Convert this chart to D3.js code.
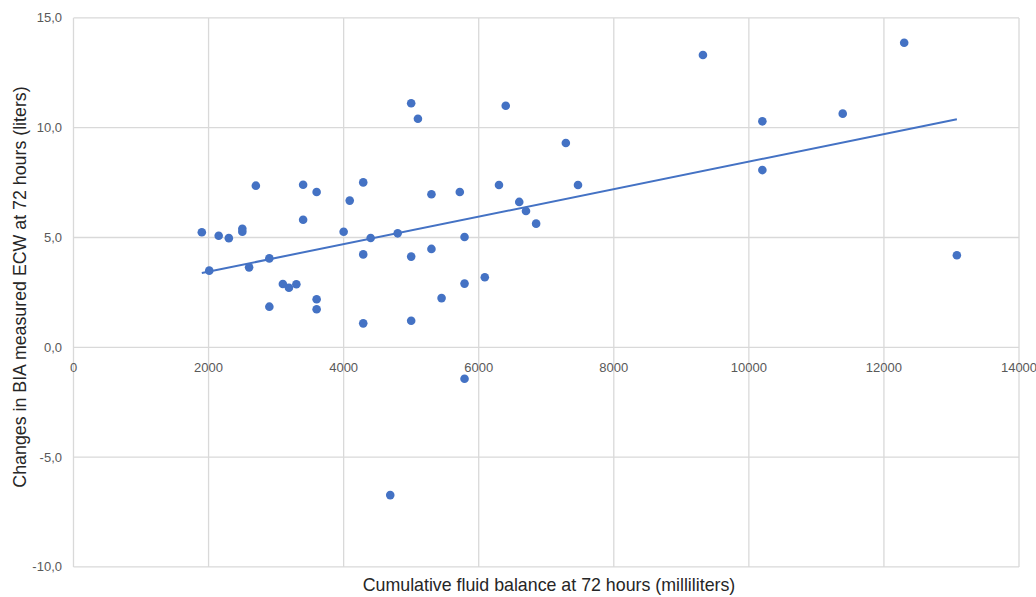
<!DOCTYPE html>
<html><head><meta charset="utf-8">
<script src="https://cdn.jsdelivr.net/npm/d3@7"></script>
<style>body{margin:0;background:#fff;}svg{display:block;}</style>
</head><body>
<svg id="c" width="1036" height="597"></svg>
<script>
const fluidBalance = [1900,2010,2150,2300,2500,2500,2600,2700,2900,2900,3100,3190,3300,3400,3400,3600,3600,3600,4000,4090,4290,4290,4290,4400,4690,4800,5000,5100,5000,5000,5300,5300,5450,5720,5790,5790,5790,6090,6300,6400,6600,6700,6850,7290,7470,9320,10200,10200,11390,12300,13080];
const ecwChange = [5.24,3.49,5.08,4.97,5.40,5.26,3.64,7.36,4.05,1.85,2.88,2.71,2.87,7.40,5.81,7.07,2.19,1.73,5.26,6.68,7.51,4.23,1.09,4.98,-6.73,5.19,11.11,10.41,4.13,1.21,6.97,4.48,2.24,7.07,5.02,2.90,-1.43,3.19,7.39,11.00,6.62,6.21,5.63,9.30,7.39,13.31,10.29,8.07,10.64,13.87,4.19];
const xTicks = [0,2000,4000,6000,8000,10000,12000,14000];
const yTicks = [-10,-5,0,5,10,15];
const xTitle = "Cumulative fluid balance at 72 hours (milliliters)";
const yTitle = "Changes in BIA measured ECW at 72 hours (liters)";

const svg = d3.select("#c");
const x = d3.scaleLinear().domain([0,14000]).range([73.5,1019]);
const y = d3.scaleLinear().domain([-10,15]).range([566.9,17.9]);
const grid = "#d9d9d9";

// gridlines
svg.append("g").selectAll("line").data(xTicks).join("line")
  .attr("x1",d=>x(d)).attr("x2",d=>x(d)).attr("y1",y(15)).attr("y2",y(-10))
  .attr("stroke",grid).attr("stroke-width",1.3);
svg.append("g").selectAll("line").data(yTicks).join("line")
  .attr("x1",x(0)).attr("x2",x(14000)).attr("y1",d=>y(d)).attr("y2",d=>y(d))
  .attr("stroke",grid).attr("stroke-width",1.3);

// tick labels
svg.append("g").selectAll("text").data(xTicks).join("text")
  .attr("x",d=>x(d)).attr("y",y(0)+25).attr("text-anchor","middle")
  .attr("font-family","Liberation Sans, Arial, sans-serif").attr("font-size",13)
  .attr("fill","#595959").text(d=>d);
svg.append("g").selectAll("text").data(yTicks).join("text")
  .attr("x",62).attr("y",d=>y(d)+4.5).attr("text-anchor","end")
  .attr("font-family","Liberation Sans, Arial, sans-serif").attr("font-size",13)
  .attr("fill","#595959").text(d=>d.toFixed(1).replace(".",","));

// trend line (least squares)
const n = fluidBalance.length;
const mx = d3.mean(fluidBalance), my = d3.mean(ecwChange);
let sxy=0,sxx=0;
for(let i=0;i<n;i++){sxy+=(fluidBalance[i]-mx)*(ecwChange[i]-my);sxx+=(fluidBalance[i]-mx)**2;}
const slope = sxy/sxx, icpt = my - slope*mx;
const ext = d3.extent(fluidBalance);
svg.append("line")
  .attr("x1",x(ext[0])).attr("y1",y(icpt+slope*ext[0]))
  .attr("x2",x(ext[1])).attr("y2",y(icpt+slope*ext[1]))
  .attr("stroke","#4472c4").attr("stroke-width",2);

// points
svg.append("g").selectAll("circle").data(fluidBalance.map((v,i)=>[v,ecwChange[i]])).join("circle")
  .attr("cx",d=>x(d[0])).attr("cy",d=>y(d[1])).attr("r",4.3).attr("fill","#4472c4");

// titles
svg.append("text").attr("x",549).attr("y",591).attr("text-anchor","middle")
  .attr("font-family","Liberation Sans, Arial, sans-serif").attr("font-size",17.8)
  .attr("fill","#262626").text(xTitle);
svg.append("text").attr("transform","translate(26,287) rotate(-90)").attr("text-anchor","middle")
  .attr("font-family","Liberation Sans, Arial, sans-serif").attr("font-size",17.8)
  .attr("fill","#262626").text(yTitle);
</script>
</body></html>
